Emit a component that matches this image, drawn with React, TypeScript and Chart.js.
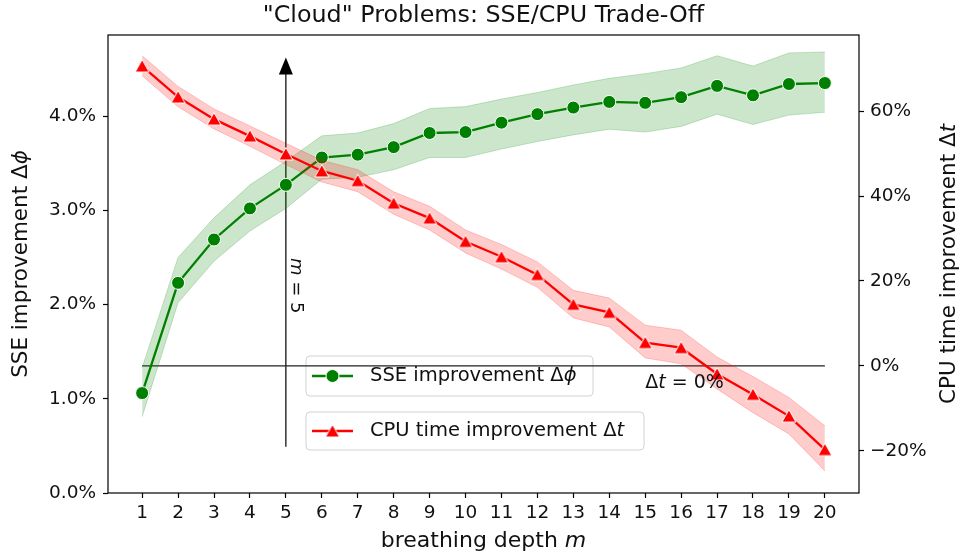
import React, { useEffect, useRef } from "react";
import { Chart, registerables } from "chart.js";

Chart.register(...registerables);

// ---------------- data ----------------
const depths = [1, 2, 3, 4, 5, 6, 7, 8, 9, 10, 11, 12, 13, 14, 15, 16, 17, 18, 19, 20];
const sseMean = [1.06, 2.23, 2.69, 3.02, 3.27, 3.56, 3.59, 3.67, 3.82, 3.83, 3.93, 4.02, 4.09, 4.15, 4.14, 4.2, 4.32, 4.22, 4.34, 4.35];
const sseLow = [0.81, 2.02, 2.46, 2.78, 3.02, 3.33, 3.35, 3.43, 3.56, 3.56, 3.65, 3.73, 3.8, 3.86, 3.83, 3.89, 4.02, 3.91, 4.01, 4.04];
const sseHigh = [1.33, 2.5, 2.92, 3.27, 3.52, 3.79, 3.82, 3.92, 4.08, 4.1, 4.18, 4.25, 4.33, 4.4, 4.45, 4.51, 4.64, 4.53, 4.67, 4.68];
const cpuMean = [70.6, 63.3, 58.1, 54.1, 49.9, 45.9, 43.6, 38.3, 34.8, 29.3, 25.7, 21.5, 14.5, 12.6, 5.5, 4.3, -1.9, -6.7, -11.8, -19.7];
const cpuLow = [68.3, 61.0, 55.8, 51.7, 47.4, 43.3, 41.0, 35.7, 32.0, 26.6, 22.8, 18.5, 11.3, 9.2, 1.9, 0.5, -5.4, -11.0, -16.0, -24.7];
const cpuHigh = [73.0, 65.8, 60.5, 56.5, 52.4, 48.4, 46.2, 41.0, 37.6, 32.0, 28.6, 24.5, 17.8, 16.0, 9.6, 8.4, 2.1, -2.5, -7.4, -14.1];

const xTicks = depths;
const leftTicks = [0, 1, 2, 3, 4];
const leftTickLabels = ["0.0%", "1.0%", "2.0%", "3.0%", "4.0%"];
const rightTicks = [-20, 0, 20, 40, 60];
const rightTickLabels = ["\u221220%", "0%", "20%", "40%", "60%"];

const titleText = '"Cloud" Problems: SSE/CPU Trade-Off';
const sseLabel = "SSE improvement ";
const cpuLabel = "CPU time improvement ";
const PHI = "\u03d5";

// annotation anchors (data coordinates)
const markDepth = 5;
const arrowFrom = 0.49;
const arrowTo = 4.62;
const markTextY = 2.2;
const zeroLineFrom = 1;
const zeroLineTo = 20;
const zeroTextX = 15;
const zeroTextY = -4;

const FONT = "'DejaVu Sans', 'Liberation Sans', sans-serif";
const GREEN = "#008000";
const RED = "#ff0000";
const TXT = "#111";

type Part = { t: string; it?: boolean };

function drawRich(ctx: CanvasRenderingContext2D, parts: Part[], x: number, y: number, size: number, align: "left" | "center") {
  const fonts = parts.map((p) => `${p.it ? "italic " : ""}${size}px ${FONT}`);
  const widths = parts.map((p, i) => {
    ctx.font = fonts[i];
    return ctx.measureText(p.t).width;
  });
  const total = widths.reduce((a, b) => a + b, 0);
  let cx = align === "center" ? x - total / 2 : x;
  ctx.textAlign = "left";
  ctx.textBaseline = "middle";
  parts.forEach((p, i) => {
    ctx.font = fonts[i];
    ctx.fillText(p.t, cx, y);
    cx += widths[i];
  });
}

function makeTriangle(color: string): HTMLCanvasElement {
  const c = document.createElement("canvas");
  c.width = 18;
  c.height = 18;
  const g = c.getContext("2d")!;
  g.beginPath();
  g.moveTo(9, 2.5);
  g.lineTo(16, 15);
  g.lineTo(2, 15);
  g.closePath();
  g.fillStyle = color;
  g.fill();
  g.strokeStyle = "#fff";
  g.lineWidth = 1;
  g.stroke();
  return c;
}

function roundRect(ctx: CanvasRenderingContext2D, x: number, y: number, w: number, h: number, r: number) {
  ctx.beginPath();
  ctx.moveTo(x + r, y);
  ctx.lineTo(x + w - r, y);
  ctx.arcTo(x + w, y, x + w, y + r, r);
  ctx.lineTo(x + w, y + h - r);
  ctx.arcTo(x + w, y + h, x + w - r, y + h, r);
  ctx.lineTo(x + r, y + h);
  ctx.arcTo(x, y + h, x, y + h - r, r);
  ctx.lineTo(x, y + r);
  ctx.arcTo(x, y, x + r, y, r);
  ctx.closePath();
}

export default function App() {
  const ref = useRef<HTMLCanvasElement | null>(null);

  useEffect(() => {
    if (!ref.current) return;
    const tri = makeTriangle(RED);

    const drawLegend = (ctx: CanvasRenderingContext2D, bx: number, by: number, bw: number, bh: number, color: string, kind: "circle" | "tri", parts: Part[]) => {
      roundRect(ctx, bx, by, bw, bh, 4);
      ctx.fillStyle = "rgba(255,255,255,0.8)";
      ctx.fill();
      ctx.strokeStyle = "#d2d2d2";
      ctx.lineWidth = 1;
      ctx.stroke();
      const cy = by + bh / 2;
      ctx.strokeStyle = color;
      ctx.lineWidth = 2.3;
      ctx.beginPath();
      ctx.moveTo(bx + 6, cy);
      ctx.lineTo(bx + 47, cy);
      ctx.stroke();
      if (kind === "circle") {
        ctx.beginPath();
        ctx.arc(bx + 26.5, cy, 6.5, 0, Math.PI * 2);
        ctx.fillStyle = color;
        ctx.fill();
        ctx.strokeStyle = "#fff";
        ctx.lineWidth = 1;
        ctx.stroke();
      } else {
        ctx.drawImage(tri, bx + 26.5 - 9, cy - 9);
      }
      ctx.fillStyle = TXT;
      drawRich(ctx, parts, bx + 64, cy, 19.5, "left");
    };

    const annot = {
      id: "annot",
      beforeDatasetsDraw(chart: any) {
        const ctx: CanvasRenderingContext2D = chart.ctx;
        const { x, y, y2 } = chart.scales;
        ctx.save();
        // vertical arrow at m = 5
        const ax = x.getPixelForValue(markDepth);
        const ay0 = y.getPixelForValue(arrowFrom);
        const ay1 = y.getPixelForValue(arrowTo);
        ctx.strokeStyle = "#000";
        ctx.lineWidth = 1.2;
        ctx.beginPath();
        ctx.moveTo(ax, ay0);
        ctx.lineTo(ax, ay1 + 10);
        ctx.stroke();
        ctx.beginPath();
        ctx.moveTo(ax, ay1);
        ctx.lineTo(ax + 7, ay1 + 17);
        ctx.lineTo(ax - 7, ay1 + 17);
        ctx.closePath();
        ctx.fillStyle = "#000";
        ctx.fill();
        // m = 5 text
        ctx.save();
        ctx.translate(ax + 10, y.getPixelForValue(markTextY));
        ctx.rotate(Math.PI / 2);
        ctx.fillStyle = TXT;
        drawRich(ctx, [{ t: "m", it: true }, { t: " = 5" }], 0, 0, 18, "center");
        ctx.restore();
        // legends
        drawLegend(ctx, 306, 356, 287, 40, GREEN, "circle", [{ t: sseLabel + "\u0394" }, { t: PHI, it: true }]);
        drawLegend(ctx, 306, 412, 338, 38, RED, "tri", [{ t: cpuLabel + "\u0394" }, { t: "t", it: true }]);
        // zero line
        const zy = y2.getPixelForValue(0);
        ctx.strokeStyle = "#222";
        ctx.lineWidth = 1.2;
        ctx.beginPath();
        ctx.moveTo(x.getPixelForValue(zeroLineFrom), zy);
        ctx.lineTo(x.getPixelForValue(zeroLineTo), zy);
        ctx.stroke();
        ctx.restore();
      },
      afterDatasetsDraw(chart: any) {
        const ctx: CanvasRenderingContext2D = chart.ctx;
        const { x, y2 } = chart.scales;
        const a = chart.chartArea;
        ctx.save();
        ctx.fillStyle = TXT;
        drawRich(ctx, [{ t: "\u0394" }, { t: "t", it: true }, { t: " = 0%" }], x.getPixelForValue(zeroTextX), y2.getPixelForValue(zeroTextY), 19, "left");
        // frame
        ctx.strokeStyle = "#000";
        ctx.lineWidth = 1.2;
        ctx.strokeRect(a.left, a.top, a.right - a.left, a.bottom - a.top);
        // titles
        const cx = (a.left + a.right) / 2;
        const cy = (a.top + a.bottom) / 2;
        ctx.fillStyle = TXT;
        drawRich(ctx, [{ t: titleText }], cx, 16, 23.8, "center");
        drawRich(ctx, [{ t: "breathing depth " }, { t: "m", it: true }], cx, 541, 22, "center");
        ctx.save();
        ctx.translate(21, cy);
        ctx.rotate(-Math.PI / 2);
        drawRich(ctx, [{ t: sseLabel + "\u0394" }, { t: PHI, it: true }], 0, 0, 21.5, "center");
        ctx.restore();
        ctx.save();
        ctx.translate(949, cy);
        ctx.rotate(-Math.PI / 2);
        drawRich(ctx, [{ t: cpuLabel + "\u0394" }, { t: "t", it: true }], 0, 0, 21.5, "center");
        ctx.restore();
        ctx.restore();
      },
    };

    const tickFont = { family: FONT, size: 18.5 };
    const grid = { display: true, drawOnChartArea: false, drawTicks: true, tickLength: 5, tickColor: "#000", tickWidth: 1.2, color: "#000" };
    const border = { display: false };

    const pts = (arr: number[]) => depths.map((d, i) => ({ x: d, y: arr[i] }));
    const band = (arr: number[], col: string, axis: string, order: number, fill: any) => ({
      type: "line" as const,
      data: pts(arr),
      yAxisID: axis,
      borderColor: col,
      borderWidth: 1,
      backgroundColor: col,
      pointRadius: 0,
      fill,
      order,
    });

    const chart = new Chart(ref.current, {
      type: "line",
      data: {
        datasets: [
          band(sseLow, "rgba(0,128,0,0.2)", "y", 10, false),
          band(sseHigh, "rgba(0,128,0,0.2)", "y", 10, "-1"),
          {
            type: "line",
            data: pts(sseMean),
            yAxisID: "y",
            borderColor: GREEN,
            borderWidth: 2.3,
            backgroundColor: GREEN,
            pointStyle: "circle",
            pointRadius: 6.5,
            pointBorderColor: "#fff",
            pointBorderWidth: 1,
            pointBackgroundColor: GREEN,
            fill: false,
            order: 8,
          },
          band(cpuLow, "rgba(255,0,0,0.2)", "y2", 6, false),
          band(cpuHigh, "rgba(255,0,0,0.2)", "y2", 6, "-1"),
          {
            type: "line",
            data: pts(cpuMean),
            yAxisID: "y2",
            borderColor: RED,
            borderWidth: 2.3,
            backgroundColor: RED,
            pointStyle: tri,
            pointRadius: 7,
            fill: false,
            order: 4,
          },
        ],
      },
      options: {
        animation: false,
        responsive: false,
        events: [],
        layout: { padding: { top: 35, left: 0, right: 0, bottom: 0 } },
        plugins: { legend: { display: false }, title: { display: false }, tooltip: { enabled: false } },
        scales: {
          x: {
            type: "linear",
            position: "bottom",
            min: 0.05,
            max: 20.95,
            afterBuildTicks: (s: any) => {
              s.ticks = xTicks.map((v) => ({ value: v }));
            },
            afterFit: (s: any) => {
              s.height = 66;
            },
            ticks: { font: tickFont, color: TXT, padding: 4, autoSkip: false, maxRotation: 0, callback: (v: any) => String(v) },
            grid,
            border,
          },
          y: {
            type: "linear",
            position: "left",
            min: 0,
            max: 4.86,
            afterBuildTicks: (s: any) => {
              s.ticks = leftTicks.map((v) => ({ value: v }));
            },
            afterFit: (s: any) => {
              s.width = 108;
            },
            ticks: { font: tickFont, color: TXT, padding: 7, callback: (v: any) => leftTickLabels[leftTicks.indexOf(v)] },
            grid,
            border,
          },
          y2: {
            type: "linear",
            position: "right",
            min: -29.9,
            max: 77.9,
            afterBuildTicks: (s: any) => {
              s.ticks = rightTicks.map((v) => ({ value: v }));
            },
            afterFit: (s: any) => {
              s.width = 105;
            },
            ticks: { font: tickFont, color: TXT, padding: 6, callback: (v: any) => rightTickLabels[rightTicks.indexOf(v)] },
            grid,
            border,
          },
        },
      } as any,
      plugins: [annot],
    });
    return () => chart.destroy();
  }, []);

  return (
    <div style={{ position: "absolute", left: 0, top: 0, width: 964, height: 559, background: "#fff" }}>
      <canvas ref={ref} width={964} height={559} style={{ display: "block" }} />
    </div>
  );
}
